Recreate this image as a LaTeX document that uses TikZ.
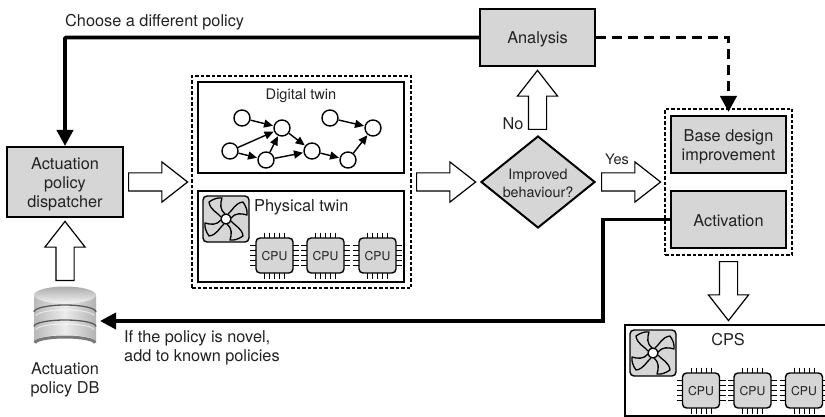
\documentclass[tikz,border=0pt]{standalone}
\usepackage{fontspec}
\setmainfont{TeX Gyre Heros}
\usetikzlibrary{shapes.geometric,shapes.arrows,arrows.meta}
\definecolor{boxgray}{HTML}{D6D6D6}
\definecolor{ink}{HTML}{222222}
\newcommand{\lift}[1]{\rule{0pt}{#1pt}}
\tikzset{
  every node/.style={text=ink,inner sep=0pt,font=\fontsize{16.3}{19}\selectfont},
  graybox/.style={draw=black,fill=boxgray,line width=2pt,align=center},
  groupbox/.style={draw=black,line width=2.2pt},
  dashbox/.style={draw=black,line width=1.1pt,dash pattern=on 3.5pt off 2pt},
  openarrow/.style={draw=black,fill=white,line width=1.2pt,single arrow,inner ysep=8.5pt,inner xsep=0pt,minimum height=59pt,
    single arrow head extend=11pt,single arrow tip angle=76,anchor=tail},
  flow/.style={draw=black,line width=3.8pt,-{Triangle[length=16pt,width=16pt]}},
  gnode/.style={circle,draw=black,fill=white,line width=1.4pt,minimum size=16pt},
  gedge/.style={draw=black,line width=1.4pt,-{Triangle[length=9pt,width=8pt]},shorten >=0.5pt},
}
\newcommand{\chipdraw}[3]{% name, x, y
  \foreach \k in {-2,...,2}{
    \draw[black,line width=1pt] (#2+\k*5,#3-23) -- (#2+\k*5,#3+23);
    \draw[black,line width=1pt] (#2-24.5,#3+\k*5) -- (#2+24.5,#3+\k*5);
  }
  \node[draw=black,fill=boxgray,line width=1.4pt,rounded corners=4pt,minimum width=37pt,minimum height=35pt,
    font=\fontsize{12.2}{14}\selectfont] (#1) at (#2,#3) {\lift{11}CPU};
}
\newcommand{\fandraw}[3]{% name, x, y
  \node[draw=black,fill=boxgray,line width=1.4pt,rounded corners=4pt,minimum size=46pt] (#1) at (#2,#3) {};
  \foreach \r in {0,90,180,270}{
    \begin{scope}[shift={(#2,#3)},rotate=\r]
      \draw[black,line width=1.3pt,line join=round]
        (-5,-2) .. controls (-9,-7) and (-16,-9) .. (-17,-17)
        .. controls (-12,-20.5) and (-8,-21.5) .. (-4,-21)
        .. controls (-6,-15) and (-6,-9) .. (-1,-5);
    \end{scope}
  }
  \fill[white,draw=black,line width=1.3pt] (#2,#3) circle (5);
}
\begin{document}
\begin{tikzpicture}[x=1pt,y=-1pt]
\useasboundingbox (0,0) rectangle (825,417);

% left column
\node[graybox,minimum width=116pt,minimum height=70pt] (dispatcher) at (65,182) {\lift{17}Actuation\\policy\\dispatcher};
\node[openarrow,rotate=90] (dbarrow) at (65,281) {};
\node[openarrow] (disparrow) at (128,182) {};

% database
\node[minimum width=64pt,minimum height=63pt] (db) at (65,318) {};
\shade[left color=gray!55,right color=gray!60,middle color=gray!15]
  (34,295) -- (34,342) arc[start angle=180,end angle=360,x radius=31,y radius=7] -- (96,295) -- cycle;
\draw[black!70,line width=3pt,opacity=.75] (35,343) arc[start angle=180,end angle=360,x radius=30,y radius=6];
\shade[top color=gray!65,bottom color=gray!10] (65,295) ellipse[x radius=31,y radius=8.5];
\draw[black!65,line width=1.3pt] (34,312) arc[start angle=180,end angle=360,x radius=31,y radius=7];
\draw[black!65,line width=1.3pt] (34,326.5) arc[start angle=180,end angle=360,x radius=31,y radius=6.5];
\draw[white,line width=1pt,opacity=.6] (36,316) arc[start angle=180,end angle=360,x radius=29,y radius=6];
\draw[white,line width=1pt,opacity=.6] (36,330) arc[start angle=180,end angle=360,x radius=29,y radius=6];
\node[align=center] (dblabel) at (65,380) {Actuation\\policy DB};

% twin group
\node[dashbox,minimum width=219pt,minimum height=212pt] (twins) at (301.5,182) {};
\node[groupbox,minimum width=206pt,minimum height=91pt] (digital) at (301,127.5) {};
\node[groupbox,minimum width=206pt,minimum height=91pt] (physical) at (301,236.5) {};
\node[font=\fontsize{14.6}{17}\selectfont] (digitallabel) at (301,95.5) {Digital twin};
\node[anchor=west,font=\fontsize{16.4}{19}\selectfont] (physlabel) at (254,207.5) {Physical twin};

\node[gnode] (n1) at (242,118) {};
\node[gnode] (n2) at (282,128) {};
\node[gnode] (n3) at (230,151) {};
\node[gnode] (n4) at (266,160) {};
\node[gnode] (n5) at (312,151) {};
\node[gnode] (n6) at (348,160) {};
\node[gnode] (n7) at (330,118) {};
\node[gnode] (n8) at (373,128) {};
\draw[gedge] (n1) -- (n2);
\draw[gedge] (n3) -- (n2);
\draw[gedge] (n3) -- (n4);
\draw[gedge] (n4) -- (n2);
\draw[gedge] (n2) -- (n5);
\draw[gedge] (n4) -- (n5);
\draw[gedge] (n5) -- (n6);
\draw[gedge] (n6) -- (n8);
\draw[gedge] (n7) -- (n8);

\fandraw{fanA}{226}{219}
\chipdraw{cpuA}{274.5}{255.5}
\chipdraw{cpuB}{325.5}{255.5}
\chipdraw{cpuC}{377.5}{255.5}

% decision
\node[openarrow] (toDecision) at (416,182) {};
\node[diamond,draw=black,fill=boxgray,line width=2pt,minimum width=114pt,minimum height=92pt,align=center,
  font=\fontsize{14.3}{18}\selectfont,aspect=1.24] (decision) at (538,182) {\lift{14}Improved\\behaviour?};
\node[openarrow,rotate=90] (noarrow) at (537.5,130) {};
\node (nolabel) at (513,124) {No};
\node[openarrow] (yesarrow) at (601,182) {};
\node[font=\fontsize{14.5}{17}\selectfont] (yeslabel) at (617,159.5) {Yes};
\node[graybox,minimum width=115pt,minimum height=57pt] (analysis) at (537.5,37.5) {\lift{15}Analysis};

% right group
\node[dashbox,minimum width=127pt,minimum height=146pt] (rightgroup) at (728.5,182) {};
\node[graybox,minimum width=115pt,minimum height=57pt] (base) at (728.5,144.5) {\lift{17}Base design\\improvement};
\node[graybox,minimum width=115pt,minimum height=57pt] (activation) at (728.5,219.5) {\lift{15}Activation};

% flows
\draw[flow,rounded corners=1pt] (analysis.west) -| (dispatcher.north);
\node[anchor=west] (choose) at (65,22.5) {Choose a different policy};
\draw[flow,dash pattern=on 10pt off 6pt] (analysis.east) -| ([yshift=3pt]base.north);
\coordinate (dbin) at (100,321);
\coordinate (bend) at (603,321);
\draw[flow] (activation.west) -| (bend) -- (dbin);
\node[anchor=west,align=left] (novel) at (124,348) {If the policy is novel,\\add to known policies};

% CPS
\node[openarrow,rotate=-90] (cpsarrow) at (728.5,261) {};
\coordinate (cpsA) at (825,325);
\coordinate (cpsB) at (625,416);
\draw[black,line width=1.6pt] (cpsA) -| (cpsB) -- (825,416);
\fandraw{fanB}{653}{353}
\node (cpslabel) at (728,340) {CPS};
\chipdraw{cpuD}{701}{390.5}
\chipdraw{cpuE}{752.5}{390.5}
\chipdraw{cpuF}{804}{390.5}
\end{tikzpicture}
\end{document}
